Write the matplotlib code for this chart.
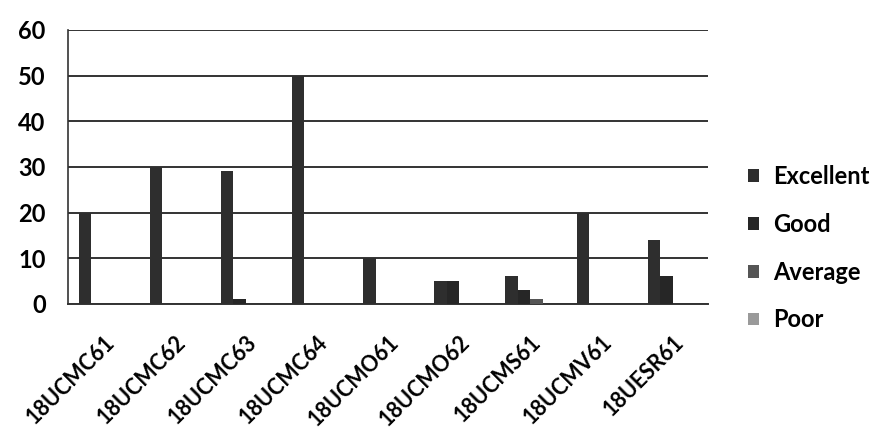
import matplotlib
matplotlib.use("Agg")
import matplotlib.pyplot as plt
import matplotlib.transforms as mtransforms
import numpy as np

categories = ["18UCMC61", "18UCMC62", "18UCMC63", "18UCMC64", "18UCMO61",
              "18UCMO62", "18UCMS61", "18UCMV61", "18UESR61"]
excellent = [20, 30, 29, 50, 10, 5, 6, 20, 14]
good = [0, 0, 1, 0, 0, 5, 3, 0, 6]
average = [0, 0, 0, 0, 0, 0, 1, 0, 0]
poor = [0, 0, 0, 0, 0, 0, 0, 0, 0]
series_names = ["Excellent", "Good", "Average", "Poor"]
yticks = [0, 10, 20, 30, 40, 50, 60]

plt.rcParams['font.family'] = ['Lato', 'DejaVu Sans']
plt.rcParams['font.weight'] = 'bold'

fig = plt.figure(figsize=(8.71, 4.41), dpi=100)
ax = fig.add_axes([0.078, 0.311, 0.735, 0.621])

colors = ["#2e2e2e", "#262626", "#555555", "#9a9a9a"]
x = np.arange(len(categories))
w = 0.175
for i, (name, vals) in enumerate(zip(series_names, [excellent, good, average, poor])):
    ax.bar(x + (i - 1.5) * w, vals, width=w, color=colors[i], label=name, zorder=3)

ax.set_xlim(-0.5, len(categories) - 0.5)
ax.set_ylim(0, 60)
ax.set_yticks(yticks)
ax.set_yticklabels([str(v) for v in yticks], fontsize=17, fontweight='bold')
ax.set_xticks(x)
ax.set_xticklabels(categories, rotation=45, ha='right', rotation_mode='anchor',
                   fontsize=15.5, fontweight='bold')
offset = mtransforms.ScaledTranslation(-6 / 100, 0, fig.dpi_scale_trans)
for lbl in ax.get_xticklabels():
    lbl.set_transform(lbl.get_transform() + offset)
ax.tick_params(axis='y', length=0, pad=16)
ax.tick_params(axis='x', length=0, pad=20)
ax.grid(axis='y', color='#333333', linewidth=1.4, zorder=0)
for s in ['top', 'right']:
    ax.spines[s].set_visible(False)
ax.spines['left'].set_color('#333333')
ax.spines['left'].set_linewidth(1.2)
ax.spines['bottom'].set_color('#333333')
ax.spines['bottom'].set_linewidth(1.4)

fig.legend(loc='upper left', bbox_to_anchor=(748 / 871, 1 - 165 / 441), frameon=False,
           handlelength=0.45, handleheight=0.45, handletextpad=0.6,
           labelspacing=1.05, borderpad=0, borderaxespad=0,
           prop={'weight': 'bold', 'size': 17})

fig.savefig("out.png", dpi=100)
